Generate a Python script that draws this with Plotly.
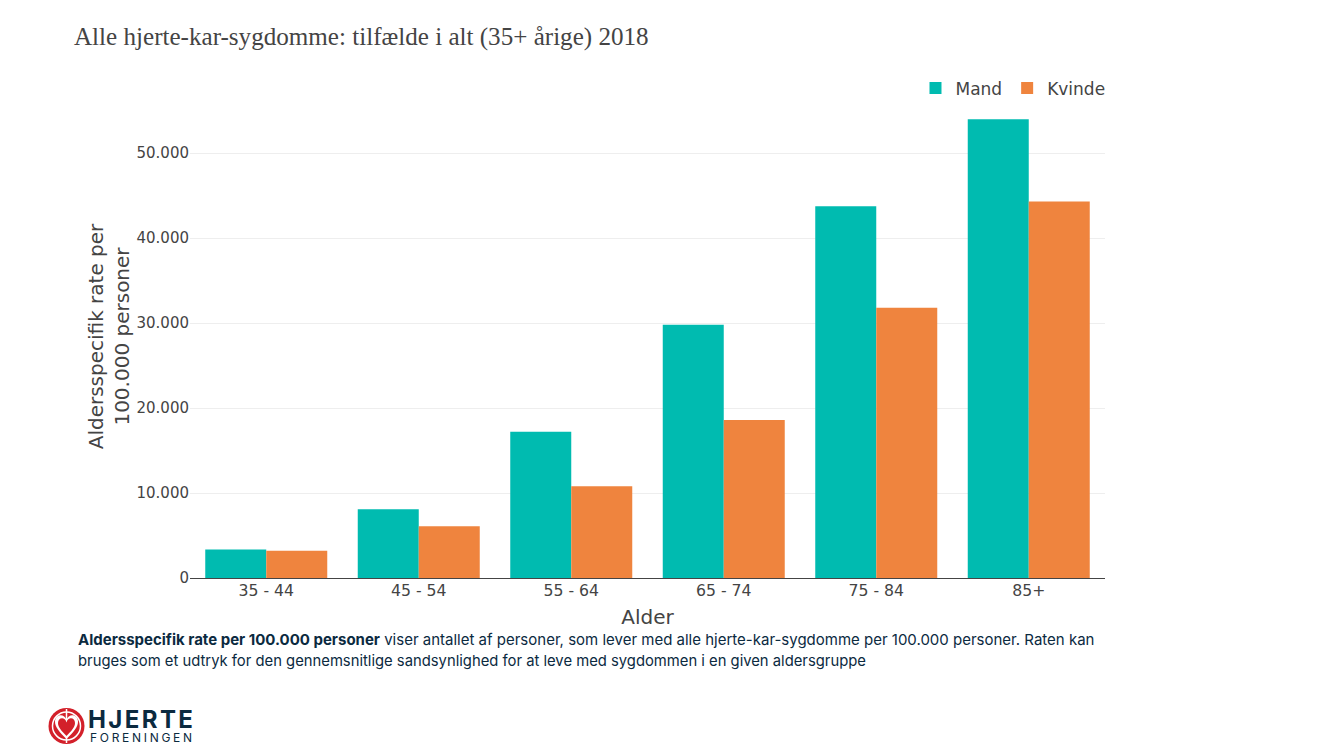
import plotly.graph_objects as go

categories = ["35 - 44", "45 - 54", "55 - 64", "65 - 74", "75 - 84", "85+"]
mand = [3350, 8100, 17200, 29800, 43750, 54000]
kvinde = [3200, 6100, 10800, 18600, 31800, 44300]
tick_vals = [0, 10000, 20000, 30000, 40000, 50000]
tick_text = ["0", "10.000", "20.000", "30.000", "40.000", "50.000"]

W, H = 1333, 750
L, R, T, B = 190, 1105, 95, 578
SANS = "DejaVu Sans"
NAVY = "#0b2a3f"
RED = "#d3202a"


def px(x):
    return (x - L) / (R - L)


def py(y):
    return (B - y) / (B - T)


fig = go.Figure()
fig.add_bar(name="Mand", x=categories, y=mand, marker_color="#00BBB0", marker_line_width=0)
fig.add_bar(name="Kvinde", x=categories, y=kvinde, marker_color="#EF843E", marker_line_width=0)


def heart(top, bottom, left, right, dip):
    cx = (left + right) / 2
    w = right - left
    h = bottom - top
    return (f"M {px(cx)} {py(bottom)} "
            f"C {px(cx - w * 0.3)} {py(bottom - h * 0.28)} {px(left)} {py(bottom - h * 0.5)} {px(left)} {py(top + h * 0.28)} "
            f"C {px(left)} {py(top - h * 0.05)} {px(cx - w * 0.08)} {py(top - h * 0.08)} {px(cx)} {py(dip)} "
            f"C {px(cx + w * 0.08)} {py(top - h * 0.08)} {px(right)} {py(top - h * 0.05)} {px(right)} {py(top + h * 0.28)} "
            f"C {px(right)} {py(bottom - h * 0.5)} {px(cx + w * 0.3)} {py(bottom - h * 0.28)} {px(cx)} {py(bottom)} Z")


shapes = [
    dict(type="circle", xref="paper", yref="paper", x0=px(48.5), x1=px(84.5), y0=py(744), y1=py(708),
         fillcolor=RED, line_width=0, layer="above"),
    dict(type="circle", xref="paper", yref="paper", x0=px(52.5), x1=px(80.5), y0=py(740), y1=py(712),
         fillcolor="rgba(0,0,0,0)", line=dict(color="white", width=1.5), layer="above"),
    dict(type="line", xref="paper", yref="paper", x0=px(66.5), x1=px(66.5), y0=py(709), y1=py(722),
         line=dict(color="white", width=1.5), layer="above"),
    dict(type="line", xref="paper", yref="paper", x0=px(66.5), x1=px(66.5), y0=py(735), y1=py(743),
         line=dict(color="white", width=1.5), layer="above"),
    dict(type="path", xref="paper", yref="paper", path=heart(715, 739, 55, 78, 720),
         fillcolor="white", line_width=0, layer="above"),
    dict(type="path", xref="paper", yref="paper", path=heart(718, 736, 58, 75, 722.5),
         fillcolor=RED, line_width=0, layer="above"),
]

annotations = [
    dict(text="Alle hjerte-kar-sygdomme: tilfælde i alt (35+ årige) 2018", x=px(71.5), y=py(37),
         font=dict(family="Liberation Serif", size=25.1, color="#444444")),
    dict(text=("<b>Aldersspecifik rate per 100.000 personer</b> viser antallet af personer, som lever med "
               "alle hjerte-kar-sygdomme per 100.000 personer. Raten kan"),
         x=px(76), y=py(639), font=dict(family="Inter", size=15, color=NAVY)),
    dict(text="bruges som et udtryk for den gennemsnitlige sandsynlighed for at leve med sygdommen i en given aldersgruppe",
         x=px(76), y=py(661), font=dict(family="Inter", size=14.8, color=NAVY)),
    dict(text="<b>HJERTE</b>", x=px(86), y=py(719), font=dict(family="Inter", size=24, color=NAVY)),
    dict(text="FORENINGEN", x=px(88), y=py(737), font=dict(family="Inter", size=12, color=NAVY)),
]
for a in annotations:
    a.update(xref="paper", yref="paper", xanchor="left", yanchor="middle", showarrow=False, align="left")

fig.update_layout(
    width=W, height=H, autosize=False,
    margin=dict(l=L, r=W - R, t=T, b=H - B, pad=0),
    paper_bgcolor="white", plot_bgcolor="white",
    barmode="group", bargap=0.2, bargroupgap=0,
    font=dict(family=SANS, color="#444444", size=14),
    legend=dict(orientation="h", x=1.006, xanchor="right", y=py(88.5), yanchor="middle",
                font=dict(family=SANS, size=17, color="#444444")),
    xaxis=dict(title=dict(text="Alder", font=dict(size=20, color="#444444"), standoff=11),
               tickfont=dict(size=15.7), ticklabelstandoff=-2, showline=True, linecolor="#444444", linewidth=1,
               ticks="", showgrid=False),
    yaxis=dict(title=dict(text="Aldersspecifik rate per<br>100.000 personer", font=dict(size=20, color="#444444"), standoff=1),
               range=[0, 56842], tickvals=tick_vals, ticktext=tick_text, tickfont=dict(size=15),
               gridcolor="#eeeeee", gridwidth=1, zeroline=False, showline=False),
    shapes=shapes, annotations=annotations,
)

post = """
document.body.style.margin='0';
document.querySelectorAll('.annotation-text').forEach(function(t){
  if (t.textContent === 'HJERTE') { t.style.letterSpacing = '2.4px'; }
  if (t.textContent === 'FORENINGEN') { t.style.letterSpacing = '2.7px'; }
});
"""
fig.write_html("out.html", post_script=post, config=dict(displayModeBar=False))
